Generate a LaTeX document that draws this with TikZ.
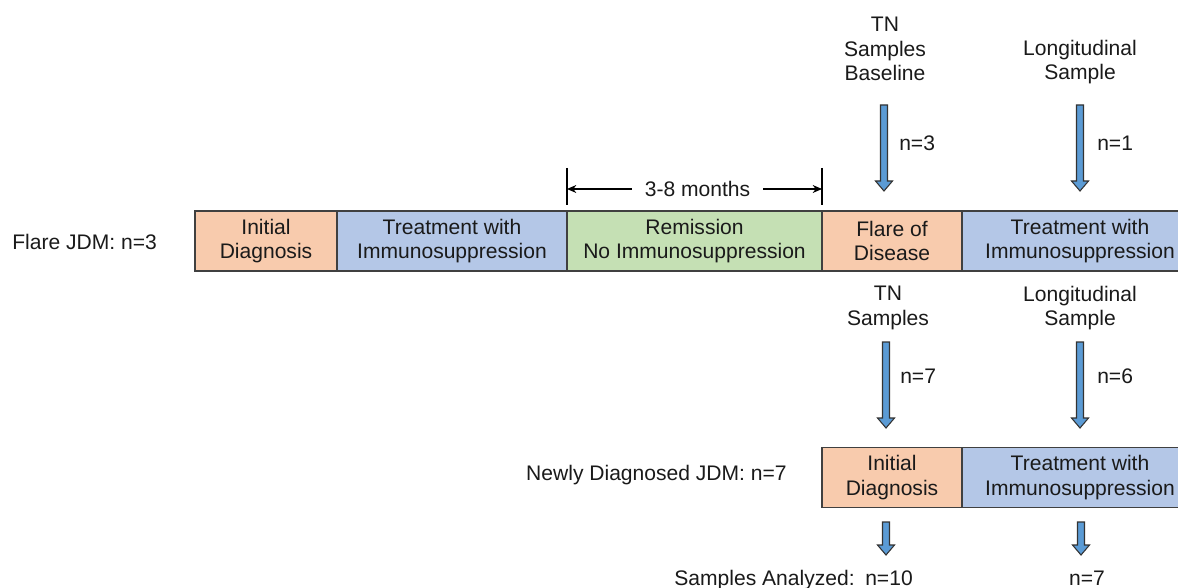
\documentclass[tikz,border=0pt]{standalone}
\usepackage{fontspec}
\setmainfont{Liberation Sans}
\usetikzlibrary{arrows.meta}
\definecolor{boxorange}{HTML}{F8CBAD}
\definecolor{boxblue}{HTML}{B4C7E7}
\definecolor{boxgreen}{HTML}{C5E0B4}
\definecolor{arrblue}{HTML}{5B9BD5}
\definecolor{edge}{HTML}{404040}
\definecolor{txt}{HTML}{1A1A1A}
\tikzset{
  every node/.style={font=\fontsize{15.8}{18.5}\selectfont, text=txt},
  box/.style={draw=edge, line width=1pt, minimum height=45pt, inner sep=0pt, align=center},
  lbl/.style={inner sep=0pt, align=center},
  barrow/.style={draw=black!80, fill=arrblue, line width=0.8pt, line join=miter},
  blockarr/.pic={\draw[barrow] (-3.5,0) -- (3.5,0) -- (3.5,#1-10) -- (8.5,#1-10) -- (0,#1) -- (-8.5,#1-10) -- (-3.5,#1-10) -- cycle;},
  dim/.style={line width=0.8pt, draw=black},
  dimarrow/.style={dim, -{Stealth[length=7pt,width=6pt]}}
}
\begin{document}
\begin{tikzpicture}[x=0.75pt,y=-0.75pt]
\useasboundingbox (0,0) rectangle (1178,588);
\clip (0,0) rectangle (1178,588);
\fill[white] (0,0) rectangle (1178,588);

% Flare JDM row
\node[lbl, anchor=west] (flare) at (12,242) {Flare JDM: n=3};
\node[box, fill=boxorange, minimum width=106.5pt] (id1) at (266,241) {Initial\\Diagnosis};
\node[box, fill=boxblue, minimum width=172.5pt] (tr1) at (452,241) {Treatment with\\Immunosuppression};
\node[box, fill=boxgreen, minimum width=191.25pt] (rm) at (694.5,241) {Remission\\No Immunosuppression};
\node[box, fill=boxorange, minimum width=105pt] (fl) at (892,241) {Flare of\\Disease};
\node[box, fill=boxblue, minimum width=177pt] (tr2) at (1080,241) {Treatment with\\Immunosuppression};

% 3-8 months bracket
\coordinate (tlt) at (567,168); \coordinate (tlb) at (567,205);
\coordinate (trt) at (822,168); \coordinate (trb) at (822,205);
\coordinate (al) at (567,189); \coordinate (ar) at (822,189);
\draw[dim] (tlt) -- (tlb);
\draw[dim] (trt) -- (trb);
\node[lbl, inner xsep=9.5pt] (months) at (697.5,189) {3-8 months};
\draw[dimarrow] (months.west) -- (al);
\draw[dimarrow] (months.east) -- (ar);

% top sample labels
\node[lbl] (tn1) at (885,49) {TN\\Samples\\Baseline};
\node[lbl] (lg1) at (1080,62) {Longitudinal\\Sample};
\pic at (884,105) {blockarr=86};
\pic at (1080,105) {blockarr=86};
\node[lbl, anchor=west] (n3) at (899,143) {n=3};
\node[lbl, anchor=west] (n1) at (1097,143) {n=1};

% lower sample labels
\node[lbl] (tn2) at (888,308) {TN\\Samples};
\node[lbl] (lg2) at (1080,308) {Longitudinal\\Sample};
\pic at (886,342) {blockarr=86};
\pic at (1080,342) {blockarr=86};
\node[lbl, anchor=west] (n7a) at (900,376) {n=7};
\node[lbl, anchor=west] (n6) at (1097,376) {n=6};

% Newly diagnosed row
\node[lbl, anchor=east] (newly) at (787,475) {Newly Diagnosed JDM: n=7};
\node[box, fill=boxorange, minimum width=105pt] (id2) at (892,477.5) {Initial\\Diagnosis};
\node[box, fill=boxblue, minimum width=177pt] (tr3) at (1080,477.5) {Treatment with\\Immunosuppression};

% analyzed
\pic at (886,522) {blockarr=33};
\pic at (1081,522) {blockarr=33};
\node[lbl, anchor=base east] (sa) at (855,585) {Samples Analyzed:};
\node[lbl, anchor=base] (n10) at (889,585) {n=10};
\node[lbl, anchor=base] (n7b) at (1087,585) {n=7};
\end{tikzpicture}
\end{document}
